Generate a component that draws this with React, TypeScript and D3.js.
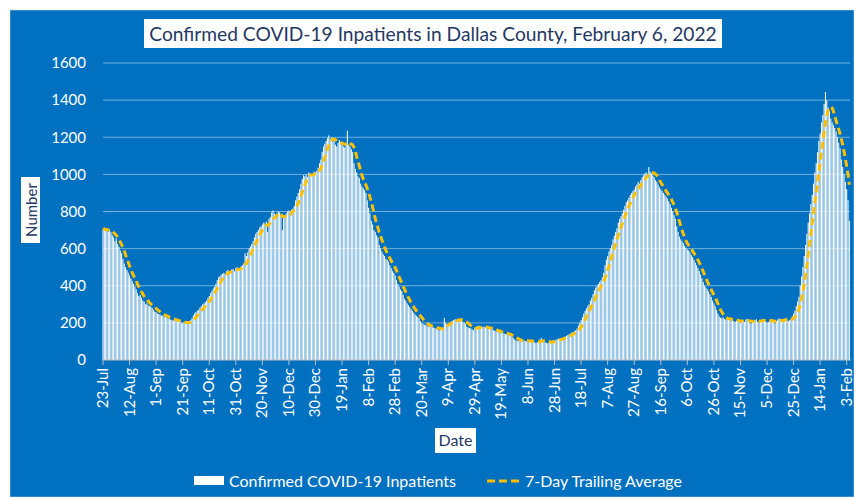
import React from 'react';
import * as d3 from 'd3';

// daily confirmed inpatients, starting 23-Jul-2020
const inpatients = [
  702, 710, 695, 705, 690, 700, 688,
  672, 660, 640, 655, 625, 610, 590,
  575, 545, 520, 500, 485, 470, 455,
  440, 425, 410, 395, 380, 360, 345,
  350, 335, 320, 315, 300, 305, 295,
  290, 288, 280, 270, 262, 258, 250,
  248, 245, 238, 240, 232, 235, 228,
  225, 222, 218, 215, 212, 220, 210,
  208, 205, 212, 200, 198, 205, 196,
  202, 200, 208, 215, 225, 240, 252,
  258, 265, 270, 282, 290, 300, 305,
  312, 320, 335, 345, 360, 372, 385,
  395, 410, 430, 445, 452, 460, 465,
  470, 462, 478, 485, 470, 480, 488,
  490, 478, 495, 500, 485, 492, 505,
  510, 520, 575, 560, 580, 600, 612,
  625, 640, 660, 680, 690, 700, 715,
  720, 730, 740, 735, 745, 690, 760,
  770, 795, 805, 790, 780, 770, 800,
  795, 785, 700, 770, 780, 790, 800,
  805, 800, 810, 815, 830, 860, 880,
  900, 920, 950, 975, 995, 990, 1000,
  985, 1010, 1005, 995, 1000, 1015, 1010,
  1020, 1035, 1060, 1080, 1120, 1150, 1165,
  1180, 1195, 1210, 1190, 1200, 1175, 1180,
  1160, 1150, 1170, 1185, 1175, 1160, 1150,
  1145, 1165, 1235, 1160, 1150, 1135, 1120,
  1060, 1030, 1010, 990, 980, 950, 935,
  925, 915, 900, 860, 820, 790, 750,
  730, 700, 690, 672, 660, 620, 600,
  585, 570, 560, 545, 540, 530, 510,
  495, 480, 470, 455, 430, 410, 395,
  380, 372, 350, 330, 320, 305, 295,
  285, 275, 265, 255, 245, 238, 232,
  225, 210, 198, 195, 190, 188, 185,
  180, 182, 178, 176, 175, 172, 168,
  165, 160, 168, 172, 175, 227, 200,
  190, 185, 195, 205, 210, 215, 220,
  218, 222, 220, 215, 210, 205, 200,
  195, 180, 175, 172, 170, 165, 160,
  175, 178, 182, 185, 180, 175, 178,
  180, 175, 172, 170, 168, 165, 170,
  160, 158, 155, 152, 150, 148, 145,
  148, 142, 140, 138, 135, 132, 130,
  125, 118, 110, 105, 104, 102, 105,
  104, 103, 106, 102, 100, 104, 101,
  103, 100, 98, 95, 92, 96, 100,
  110, 119, 108, 100, 95, 92, 90,
  95, 98, 104, 106, 102, 108, 112,
  115, 110, 118, 120, 122, 126, 130,
  135, 138, 142, 148, 150, 155, 160,
  170, 185, 200, 215, 230, 250, 265,
  278, 290, 300, 320, 335, 355, 375,
  390, 400, 410, 420, 430, 445, 470,
  510, 540, 560, 585, 600, 620, 650,
  670, 690, 710, 740, 760, 775, 790,
  810, 830, 850, 860, 875, 890, 900,
  910, 920, 935, 945, 960, 950, 970,
  985, 995, 1005, 1010, 1000, 1040, 1015,
  1005, 995, 985, 970, 960, 945, 930,
  920, 910, 900, 890, 880, 870, 855,
  840, 820, 800, 780, 760, 720, 690,
  665, 650, 640, 630, 615, 605, 595,
  590, 580, 565, 555, 540, 525, 510,
  495, 480, 460, 440, 420, 400, 390,
  380, 370, 355, 340, 320, 305, 290,
  270, 250, 235, 228, 225, 230, 220,
  218, 222, 215, 225, 212, 218, 210,
  205, 212, 220, 208, 198, 215, 210,
  205, 218, 222, 210, 200, 195, 212,
  208, 215, 220, 205, 198, 210, 215,
  222, 218, 210, 200, 205, 212, 220,
  215, 208, 195, 210, 218, 225, 220,
  212, 205, 215, 222, 218, 210, 215,
  220, 235, 250, 265, 290, 315, 340,
  400, 450, 500, 560, 620, 680, 740,
  790, 840, 890, 950, 1010, 1060, 1120,
  1180, 1220, 1280, 1320, 1380, 1443, 1400,
  1360, 1340, 1300, 1280, 1265, 1250, 1230,
  1200, 1170, 1140, 1080, 1040, 1000, 960,
  920, 860, 750,
];

const startDate = new Date(2020, 6, 23);
const yTicks = [0, 200, 400, 600, 800, 1000, 1200, 1400, 1600];
const tickEvery = 20; // days between x labels

const W = 854;
const H = 497;
const BLUE = '#0070C0';
const NAVY = '#1F3864';
const GOLD = '#FFC000';
const FONT = 'Lato, "Open Sans", sans-serif';

export default function App() {
  const dates = inpatients.map((_, i) => d3.timeDay.offset(startDate, i));
  // 7-day trailing average
  const trailing = inpatients.map((_, i) =>
    d3.mean(inpatients.slice(Math.max(0, i - 6), i + 1)) as number
  );

  const x = d3.scaleLinear().domain([0, 560]).range([103, 846.7]);
  const y = d3.scaleLinear().domain([0, 1600]).range([360, 63]);
  const fmt = d3.timeFormat('%-d-%b');
  const xTicks = d3.range(0, inpatients.length, tickEvery);

  const line = d3.line<number>()
    .x((_, i) => x(i))
    .y(d => y(d));

  const barW = 1.05;

  return (
    <svg width={W} height={H} style={{ position: 'absolute', left: 0, top: 0 }}
      fontFamily={FONT}>
      <rect x={0} y={0} width={W} height={H} fill="#fff" />
      <rect x={10} y={10} width={W - 10} height={H - 10} fill={BLUE} stroke="#d9d9d9" strokeWidth={0.5} />

      {/* title */}
      <rect x={144} y={19} width={578} height={29} fill="#fff" />
      <text x={433} y={41} textAnchor="middle" fontSize={19.2} fill={NAVY}>
        Confirmed COVID-19 Inpatients in Dallas County, February 6, 2022
      </text>

      {/* gridlines + y labels */}
      {yTicks.map(t => (
        <g key={t}>
          {t > 0 && (
            <line x1={103} x2={850} y1={y(t)} y2={y(t)} stroke="#fff" strokeOpacity={0.45} strokeWidth={1} />
          )}
          <text x={86} y={y(t)} dy="0.35em" textAnchor="end" fontSize={15} fill="#fff">{t}</text>
        </g>
      ))}

      {/* bars */}
      {inpatients.map((v, i) => (
        <rect key={i} x={x(i) - barW / 2} y={y(v)} width={barW} height={y(0) - y(v)} fill="#fff" />
      ))}

      {/* x axis */}
      <line x1={103} x2={851} y1={y(0)} y2={y(0)} stroke="#bfbfbf" strokeWidth={1} />
      {xTicks.map(i => (
        <g key={i}>
          <line x1={x(i)} x2={x(i)} y1={y(0)} y2={y(0) + 5} stroke="#bfbfbf" strokeWidth={1} />
          <text transform={`translate(${x(i) - 1},${y(0) + 8}) rotate(-90)`}
            textAnchor="end" dominantBaseline="central" fontSize={15} fill="#fff">
            {fmt(dates[i])}
          </text>
        </g>
      ))}

      {/* 7-day average */}
      <path d={line(trailing) as string} fill="none" stroke={GOLD} strokeWidth={3}
        strokeDasharray="7,4" />

      {/* axis titles */}
      <rect x={21} y={177} width={19} height={66} fill="#fff" />
      <text transform="translate(31,210) rotate(-90)" textAnchor="middle" dominantBaseline="central"
        fontSize={15} fill={NAVY}>Number</text>
      <rect x={435} y={428} width={41} height={25} fill="#fff" />
      <text x={455.5} y={446} textAnchor="middle" fontSize={16} fill={NAVY}>Date</text>

      {/* legend */}
      <rect x={194} y={476} width={30} height={9} fill="#fff" />
      <text x={229} y={487} fontSize={16} fill="#fff">Confirmed COVID-19 Inpatients</text>
      <line x1={487} x2={521} y1={481} y2={481} stroke={GOLD} strokeWidth={3} strokeDasharray="8,4" />
      <text x={525} y={487} fontSize={16} fill="#fff">7-Day Trailing Average</text>
    </svg>
  );
}
